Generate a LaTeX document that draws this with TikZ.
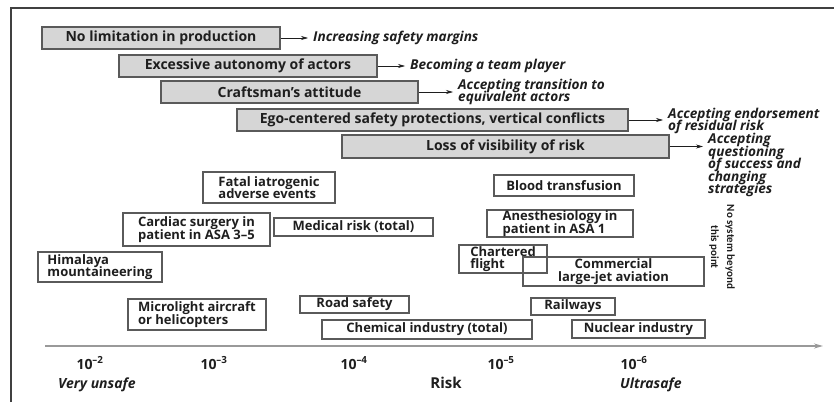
\documentclass[tikz,border=0pt]{standalone}
\usepackage{fontspec}
\setmainfont{Open Sans}
\newfontfamily\carl{Carlito}
\usetikzlibrary{arrows.meta}
\definecolor{boxgray}{HTML}{5A5A5A}
\definecolor{fillgray}{HTML}{D6D6D6}
\definecolor{txt}{HTML}{1E1E1E}
\newcommand\tightlines{\lineskiplimit=-30pt\lineskip=0pt\relax}
\begin{document}
\begin{tikzpicture}[x=1pt,y=-1pt,
  box/.style={draw=boxgray, line width=1.1pt, inner sep=0pt, text=txt,
    font=\bfseries\fontsize{13}{12.3}\selectfont\tightlines, align=left},
  gbox/.style={box, fill=fillgray, font=\bfseries\fontsize{14}{13}\selectfont},
  lbl/.style={text=txt, font=\bfseries\itshape\fontsize{13.6}{12.6}\selectfont\tightlines, align=left, inner sep=0pt},
  tick/.style={text=txt, font=\bfseries\fontsize{14}{12}\selectfont, inner sep=0pt},
  arr/.style={draw=txt, line width=0.6pt, -{Stealth[length=7pt,width=4pt]}, shorten >=5pt},
  axisline/.style={draw=gray!80, line width=1.6pt, -{Stealth[length=9pt,width=5pt]}},
  frame/.style={draw=black!75, line width=1.4pt}
]
\useasboundingbox (0,0) rectangle (834,402);
% frame
\coordinate (ftl) at (11,8);
\coordinate (fbl) at (11,402);
\coordinate (ftr) at (834,8);
\draw[frame] (fbl) -- (ftl) -- (ftr);

% grey bars
\node[gbox, minimum width=238, minimum height=22] (b1) at (161,38) {No limitation in production};
\node[gbox, minimum width=258, minimum height=22] (b2) at (248,66) {Excessive autonomy of actors};
\node[gbox, minimum width=257, minimum height=22] (b3) at (289.5,92) {Craftsman’s attitude};
\node[gbox, minimum width=391, minimum height=22] (b4) at (432.5,120) {Ego-centered safety protections, vertical conflicts};
\node[gbox, minimum width=327, minimum height=23] (b5) at (505.5,146.5) {Loss of visibility of risk};

% labels
\node[lbl, anchor=west] (l1) at (313,38) {Increasing safety margins};
\node[lbl, anchor=west] (l2) at (410,66) {Becoming a team player};
\node[lbl, anchor=west] (l3) at (458,92) {Accepting transition to\\equivalent actors};
\node[lbl, anchor=west] (l4) at (668,121) {Accepting endorsement\\of residual risk};
\node[lbl, anchor=north west] (l5) at (708,133) {Accepting\\questioning\\of success and\\changing\\strategies};

\draw[arr] (b1.east) -- (l1.west);
\draw[arr] (b2.east) -- (l2.west);
\draw[arr] (b3.east) -- (b3.east -| l3.west);
\draw[arr] (b4.east) -- (b4.east -| l4.west);
\draw[arr] (b5.east) -- (b5.east -| l5.west);

% activity boxes
\node[box, minimum width=132, minimum height=31] (fatal) at (269,187.5) {Fatal iatrogenic\\adverse events};
\node[box, minimum width=147, minimum height=33] (cardiac) at (196.5,229.5) {Cardiac surgery in\\patient in ASA 3–5};
\node[box, minimum width=159, minimum height=18] (medical) at (353.5,227) {Medical risk (total)};
\node[box, minimum width=124, minimum height=30] (himalaya) at (100,267) {Himalaya\\mountaineering};
\node[box, minimum width=138, minimum height=31] (micro) at (197,314.5) {Microlight aircraft\\or helicopters};
\node[box, minimum width=109, minimum height=17] (road) at (354.5,304.5) {Road safety};
\node[box, minimum width=210, minimum height=19] (chem) at (427,329.5) {Chemical industry (total)};
\node[box, minimum width=140, minimum height=21] (blood) at (564,185.5) {Blood transfusion};
\node[box, minimum width=146, minimum height=27] (anest) at (560,223.5) {Anesthesiology in\\patient in ASA 1};
\node[box, minimum width=88, minimum height=28] (charter) at (503,259) {Chartered\\flight};
\node[box, minimum width=181, minimum height=29, align=center] (comm) at (613.5,271.5) {Commercial\\large-jet aviation};
\node[box, minimum width=84, minimum height=17] (rail) at (573,306.5) {Railways};
\node[box, minimum width=133, minimum height=18] (nuclear) at (638.5,329) {Nuclear industry};

\node[text=txt, rotate=-90, align=center, inner sep=0pt,
  font=\carl\bfseries\fontsize{11}{16}\selectfont] (nosys) at (722,247) {No system beyond\\this point};

% axis
\coordinate (axL) at (45,346);
\coordinate (axR) at (823,346);
\draw[axisline] (axL) -- (axR);

\node[tick] (t2) at (90,363) {10\textsuperscript{–2}};
\node[tick] (t3) at (214,363) {10\textsuperscript{–3}};
\node[tick] (t4) at (354,363) {10\textsuperscript{–4}};
\node[tick] (t5) at (501,363) {10\textsuperscript{–5}};
\node[tick] (t6) at (634,363) {10\textsuperscript{–6}};

\node[lbl, anchor=west, font=\bfseries\itshape\fontsize{14}{14}\selectfont] (vu) at (58,385) {Very unsafe};
\node[text=txt, font=\bfseries\fontsize{15}{16}\selectfont, inner sep=0pt] (risk) at (446,383) {Risk};
\node[lbl, anchor=west, font=\bfseries\itshape\fontsize{14}{14}\selectfont] (us) at (620,385) {Ultrasafe};
\end{tikzpicture}
\end{document}
